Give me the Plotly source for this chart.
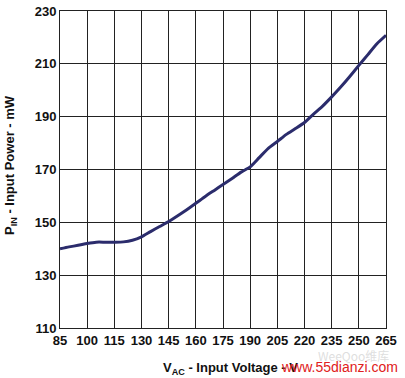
import plotly.graph_objects as go

voltage = [85, 90, 95, 100, 105, 110, 115, 120, 125, 130, 135, 140, 145, 150, 155, 160,
           165, 170, 175, 180, 185, 190, 195, 200, 205, 210, 215, 220, 225, 230, 235,
           240, 245, 250, 255, 260, 265]
power = [140.0, 140.7, 141.3, 142.0, 142.5, 142.5, 142.5, 142.6, 143.2, 144.5, 146.5,
         148.4, 150.3, 152.5, 154.8, 157.2, 159.7, 162.0, 164.3, 166.6, 169.0, 171.0,
         174.5, 178.0, 180.6, 183.3, 185.5, 187.8, 191.0, 194.0, 197.5, 201.2, 205.2,
         209.4, 213.5, 217.6, 220.8]
x_ticks = [85, 100, 115, 130, 145, 160, 175, 190, 205, 220, 235, 250, 265]
y_ticks = [110, 130, 150, 170, 190, 210, 230]

font = dict(family="Liberation Sans, Arial, sans-serif", size=13, color="#111111")

fig = go.Figure()
fig.add_trace(go.Scatter(x=voltage, y=power, mode="lines",
                         line=dict(color="#2b2c6c", width=3, shape="spline", smoothing=0.6),
                         hoverinfo="skip", showlegend=False))

axis_common = dict(showgrid=True, gridcolor="#222222", gridwidth=1,
                   showline=True, linecolor="#222222", linewidth=1, mirror=True,
                   zeroline=False, ticks="", ticklen=0, automargin=False,
                   ticklabeloverflow="allow")

fig.update_layout(
    width=405, height=378,
    margin=dict(l=60, r=19, t=11, b=50, autoexpand=False),
    paper_bgcolor="white", plot_bgcolor="white",
    font=font,
    xaxis=dict(range=[85, 265], tickvals=x_ticks,
               ticktext=[f"<b>{v}</b>" for v in x_ticks], **axis_common),
    yaxis=dict(range=[110, 230], tickvals=y_ticks,
               ticktext=[f"<b>{v}</b>" for v in y_ticks], **axis_common),
)

# axis titles (plot area: left=60, right=386, top=11, bottom=328 px)
fig.add_annotation(text="<b>V<sub>AC</sub> - Input Voltage - V</b>", xref="paper", yref="paper",
                   x=(230 - 60) / 326, y=-(368 - 328) / 317, showarrow=False,
                   font=dict(size=13), xanchor="center", yanchor="middle")
fig.add_annotation(text="<b>P<sub>IN</sub> - Input Power - mW</b>", xref="paper", yref="paper",
                   x=-(60 - 10) / 326, y=(328 - 165) / 317, showarrow=False, textangle=-90,
                   font=dict(size=13), xanchor="center", yanchor="middle")

# watermarks
fig.add_annotation(text="WeeQoo维库", xref="paper", yref="paper",
                   x=(353 - 60) / 326, y=-(356 - 328) / 317, showarrow=False,
                   xanchor="center", yanchor="middle",
                   font=dict(size=12, color="rgba(200,200,200,0.6)",
                             family="Noto Sans CJK SC"))
fig.add_annotation(text="www.55dianzi.com", xref="paper", yref="paper",
                   x=(400 - 60) / 326, y=-(367 - 328) / 317,
                   xanchor="right", yanchor="middle", showarrow=False,
                   font=dict(size=14, color="#e02020", family="Liberation Sans"))

fig.write_html("out.html", config={"displayModeBar": False},
               post_script="document.body.style.margin='0';")
